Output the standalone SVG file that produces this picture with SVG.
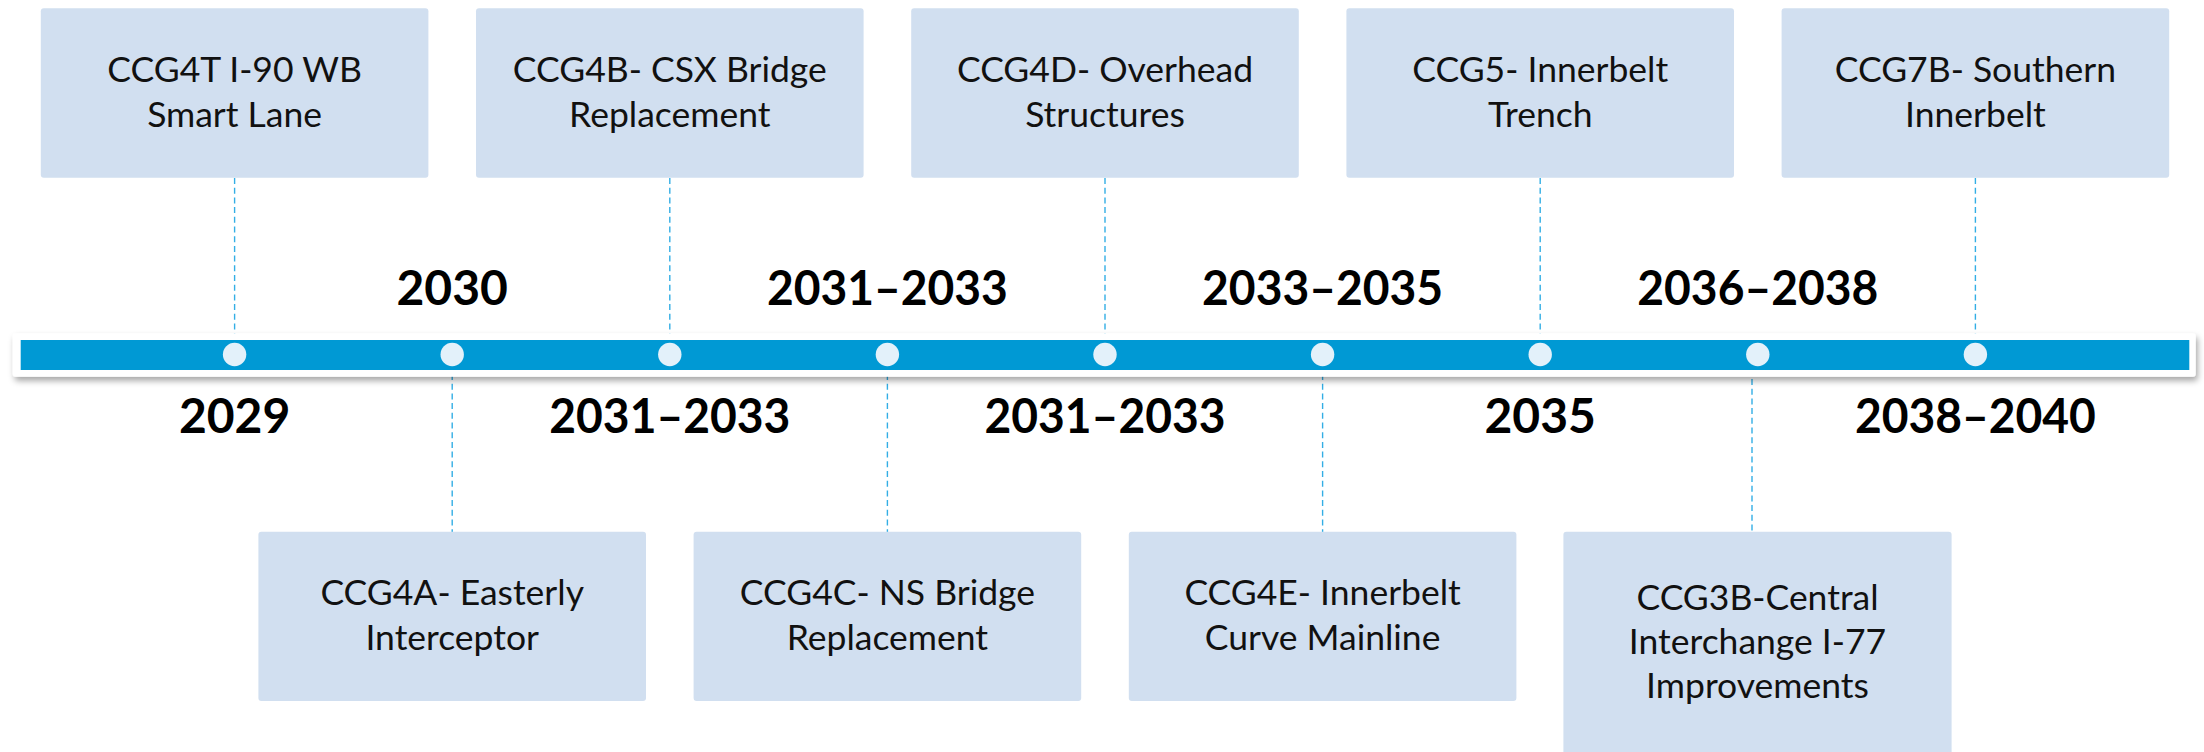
<svg xmlns="http://www.w3.org/2000/svg" width="2204" height="752" viewBox="0 0 2204 752">
<defs>
<style>
.box{fill:#d1dff0;}
.bt{font-family:Lato,"Open Sans","Liberation Sans",sans-serif;font-size:35.5px;fill:#111;text-anchor:middle;}
.yr{font-family:Lato,"Liberation Sans",sans-serif;font-weight:bold;font-size:48px;fill:#000;text-anchor:middle;}
.dash{stroke:#33aee5;stroke-width:1.4;stroke-dasharray:6 3.7;fill:none;}
.dot{fill:#e3f1fa;}
</style>
<filter id="sh" x="-2%" y="-40%" width="104%" height="200%">
<feDropShadow dx="2" dy="4" stdDeviation="3" flood-color="#000" flood-opacity="0.35"/>
</filter>
</defs>
<rect width="2204" height="752" fill="#fff"/>
<g id="connectors">
<line class="dash" x1="234.6" y1="178" x2="234.6" y2="335"/>
<line class="dash" x1="669.8" y1="178" x2="669.8" y2="335"/>
<line class="dash" x1="1105" y1="178" x2="1105" y2="335"/>
<line class="dash" x1="1540.2" y1="178" x2="1540.2" y2="335"/>
<line class="dash" x1="1975.4" y1="178" x2="1975.4" y2="335"/>
<line class="dash" x1="452.2" y1="374" x2="452.2" y2="533"/>
<line class="dash" x1="887.4" y1="374" x2="887.4" y2="533"/>
<line class="dash" x1="1322.6" y1="374" x2="1322.6" y2="533"/>
<line class="dash" x1="1752" y1="379" x2="1752" y2="539"/>
</g>
<g id="timeline">
<rect x="12.7" y="333.3" width="2183" height="43.4" rx="3" fill="#fff" filter="url(#sh)"/>
<rect x="20.7" y="340" width="2168.6" height="30" fill="#0099d4"/>
<circle class="dot" cx="234.6" cy="354.5" r="11.7"/>
<circle class="dot" cx="452.2" cy="354.5" r="11.7"/>
<circle class="dot" cx="669.8" cy="354.5" r="11.7"/>
<circle class="dot" cx="887.4" cy="354.5" r="11.7"/>
<circle class="dot" cx="1105" cy="354.5" r="11.7"/>
<circle class="dot" cx="1322.6" cy="354.5" r="11.7"/>
<circle class="dot" cx="1540.2" cy="354.5" r="11.7"/>
<circle class="dot" cx="1757.8" cy="354.5" r="11.7"/>
<circle class="dot" cx="1975.4" cy="354.5" r="11.7"/>
</g>
<g id="years">
<text class="yr" x="452.2" y="305">2030</text>
<text class="yr" x="887.4" y="305" textLength="241" lengthAdjust="spacingAndGlyphs">2031–2033</text>
<text class="yr" x="1322.6" y="305" textLength="241" lengthAdjust="spacingAndGlyphs">2033–2035</text>
<text class="yr" x="1757.8" y="305" textLength="241" lengthAdjust="spacingAndGlyphs">2036–2038</text>
<text class="yr" x="234.6" y="433">2029</text>
<text class="yr" x="669.8" y="433" textLength="241" lengthAdjust="spacingAndGlyphs">2031–2033</text>
<text class="yr" x="1105" y="433" textLength="241" lengthAdjust="spacingAndGlyphs">2031–2033</text>
<text class="yr" x="1540.2" y="433">2035</text>
<text class="yr" x="1975.4" y="433" textLength="241" lengthAdjust="spacingAndGlyphs">2038–2040</text>
</g>
<g id="n1"><rect class="box" x="40.8" y="8.3" width="387.6" height="169.4" rx="3"/><text class="bt" x="234.6" y="82">CCG4T I-90 WB</text><text class="bt" x="234.6" y="126.7">Smart Lane</text></g>
<g id="n3"><rect class="box" x="476" y="8.3" width="387.6" height="169.4" rx="3"/><text class="bt" x="669.8" y="82">CCG4B- CSX Bridge</text><text class="bt" x="669.8" y="126.7">Replacement</text></g>
<g id="n5"><rect class="box" x="911.2" y="8.3" width="387.6" height="169.4" rx="3"/><text class="bt" x="1105" y="82">CCG4D- Overhead</text><text class="bt" x="1105" y="126.7">Structures</text></g>
<g id="n7"><rect class="box" x="1346.4" y="8.3" width="387.6" height="169.4" rx="3"/><text class="bt" x="1540.2" y="82">CCG5- Innerbelt</text><text class="bt" x="1540.2" y="126.7">Trench</text></g>
<g id="n9"><rect class="box" x="1781.6" y="8.3" width="387.6" height="169.4" rx="3"/><text class="bt" x="1975.4" y="82">CCG7B- Southern</text><text class="bt" x="1975.4" y="126.7">Innerbelt</text></g>
<g id="n2"><rect class="box" x="258.4" y="531.7" width="387.6" height="169.4" rx="3"/><text class="bt" x="452.2" y="605">CCG4A- Easterly</text><text class="bt" x="452.2" y="650">Interceptor</text></g>
<g id="n4"><rect class="box" x="693.6" y="531.7" width="387.6" height="169.4" rx="3"/><text class="bt" x="887.4" y="605">CCG4C- NS Bridge</text><text class="bt" x="887.4" y="650">Replacement</text></g>
<g id="n6"><rect class="box" x="1128.8" y="531.7" width="387.6" height="169.4" rx="3"/><text class="bt" x="1322.6" y="605">CCG4E- Innerbelt</text><text class="bt" x="1322.6" y="650">Curve Mainline</text></g>
<g id="n8"><rect class="box" x="1563.4" y="531.7" width="388.2" height="230" rx="3"/><text class="bt" x="1757.5" y="610">CCG3B-Central</text><text class="bt" x="1757.5" y="654.3">Interchange I-77</text><text class="bt" x="1757.5" y="697.7">Improvements</text></g>
</svg>
